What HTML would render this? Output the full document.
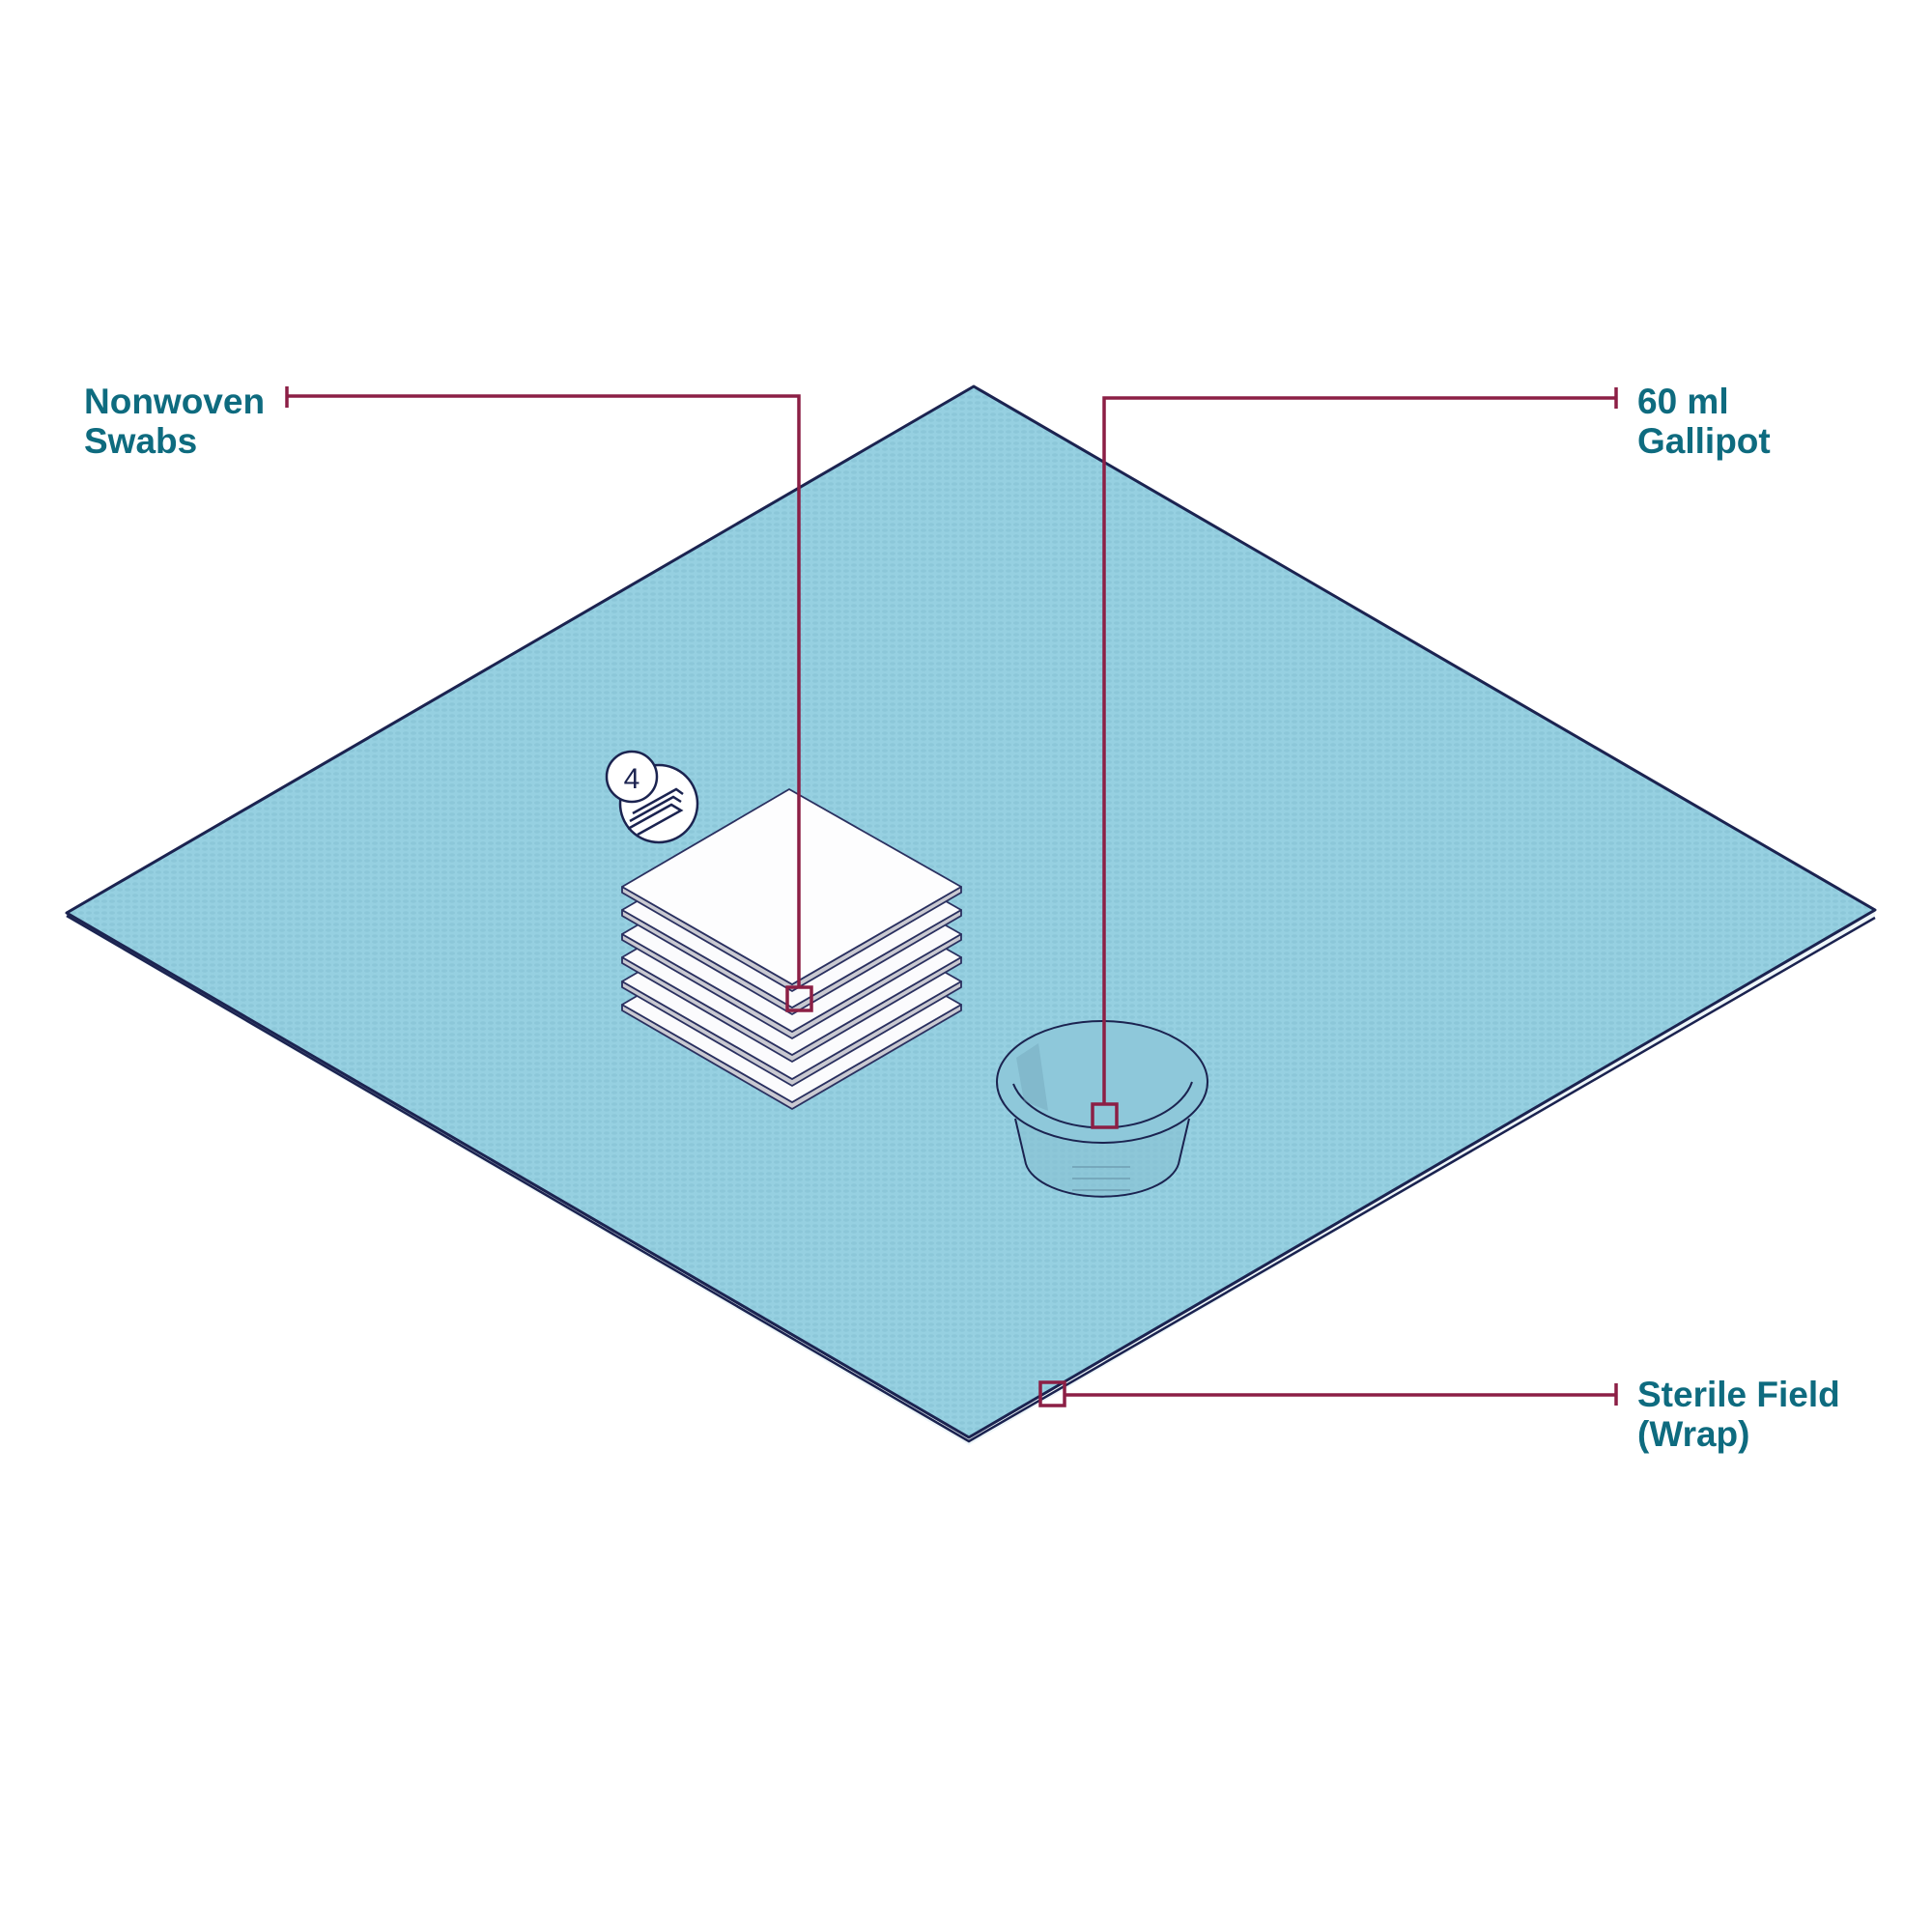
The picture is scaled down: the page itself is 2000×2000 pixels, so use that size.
<!DOCTYPE html>
<html><head><meta charset="utf-8"><style>
html,body{margin:0;padding:0;background:#fff;}
svg{display:block;}
text{font-family:"Liberation Sans",sans-serif;font-weight:bold;fill:#0e6b7f;font-size:37px;}
</style></head><body>
<svg width="2000" height="2000" viewBox="0 0 2000 2000" xmlns="http://www.w3.org/2000/svg">
<defs>
<pattern id="dots" width="8" height="6" patternUnits="userSpaceOnUse">
<rect width="8" height="6" fill="#96d0e1"/>
<ellipse cx="4" cy="3" rx="3" ry="1.8" fill="#8cc7d9"/>
</pattern>
</defs>
<!-- sterile field -->
<polygon points="1008,400 1941,942 1941,950 1003,1496 69,950 69,945" fill="#eef6f9"/>
<polygon points="1008,400 1941,942 1003,1488 69,945" fill="url(#dots)" stroke="#1b2350" stroke-width="3" stroke-linejoin="round"/>
<polyline points="69,948 1003,1492 1941,950" fill="none" stroke="#1b2350" stroke-width="2.5"/>

<!-- badge -->
<circle cx="682" cy="832" r="40" fill="#fff" stroke="#1b2350" stroke-width="2.5"/>
<g fill="none" stroke="#1b2350" stroke-width="2.5">
<polyline points="650,858 695,833 705,839 660,864"/>
<polyline points="652,850 697,825 705,830"/>
<polyline points="655,842 700,817 707,822"/>
</g>
<circle cx="654" cy="804" r="26" fill="#fff" stroke="#1b2350" stroke-width="2.5"/>
<text x="654" y="816" text-anchor="middle" style="font-weight:normal;fill:#1b2350;font-size:30px">4</text>

<!-- swabs -->
<g stroke="#2a3060" stroke-width="1.8" stroke-linejoin="round">
<g transform="translate(0,122)"><polygon points="644,918 820,1019 995,918 995,924 820,1026 644,924" fill="#c9c9d1"/><polygon points="817,817 995,918 820,1019 644,918" fill="#fbfbfd"/></g>
<g transform="translate(0,98)"><polygon points="644,918 820,1019 995,918 995,924 820,1026 644,924" fill="#c9c9d1"/><polygon points="817,817 995,918 820,1019 644,918" fill="#fbfbfd"/></g>
<g transform="translate(0,73)"><polygon points="644,918 820,1019 995,918 995,924 820,1026 644,924" fill="#c9c9d1"/><polygon points="817,817 995,918 820,1019 644,918" fill="#fbfbfd"/></g>
<g transform="translate(0,49)"><polygon points="644,918 820,1019 995,918 995,924 820,1026 644,924" fill="#c9c9d1"/><polygon points="817,817 995,918 820,1019 644,918" fill="#fbfbfd"/></g>
<g transform="translate(0,24)"><polygon points="644,918 820,1019 995,918 995,924 820,1026 644,924" fill="#c9c9d1"/><polygon points="817,817 995,918 820,1019 644,918" fill="#fbfbfd"/></g>
<g><polygon points="644,918 820,1019 995,918 995,924 820,1026 644,924" fill="#c9c9d1"/><polygon points="817,817 995,918 820,1019 644,918" fill="#fdfdfe"/></g>
</g>

<!-- gallipot -->
<g stroke="#1b2350" stroke-width="2" fill="none">
<path d="M1051,1158 L1062,1205 A80,40 0 0 0 1220,1205 L1231,1158" fill="#86bfd2" fill-opacity="0.55"/>
<ellipse cx="1141" cy="1120" rx="109" ry="63" fill="#8ec8da"/>
<path d="M1049,1122 A95,60 0 0 0 1234,1120" />
<g stroke="#6f9fb3" stroke-width="1.5"><line x1="1110" y1="1208" x2="1170" y2="1208"/><line x1="1110" y1="1220" x2="1170" y2="1220"/><line x1="1110" y1="1232" x2="1170" y2="1232"/></g>
</g>
<path d="M1052,1095 L1075,1080 L1085,1150 L1060,1140 Z" fill="#6e9fb2" opacity="0.35"/>

<!-- leaders -->
<g stroke="#8c1f45" stroke-width="3.5" fill="none">
<line x1="297" y1="400" x2="297" y2="422"/>
<polyline points="297,410 827,410 827,1022"/>
<rect x="815" y="1022" width="25" height="24"/>
<line x1="1673" y1="401" x2="1673" y2="423"/>
<polyline points="1673,412 1143,412 1143,1143"/>
<rect x="1131" y="1143" width="25" height="24"/>
<line x1="1673" y1="1432" x2="1673" y2="1455"/>
<line x1="1102" y1="1444" x2="1673" y2="1444"/>
<rect x="1077" y="1431" width="25" height="24"/>
</g>

<text x="87" y="428">Nonwoven</text>
<text x="87" y="469">Swabs</text>
<text x="1695" y="428">60 ml</text>
<text x="1695" y="469">Gallipot</text>
<text x="1695" y="1456">Sterile Field</text>
<text x="1695" y="1497">(Wrap)</text>
</svg>
</body></html>
